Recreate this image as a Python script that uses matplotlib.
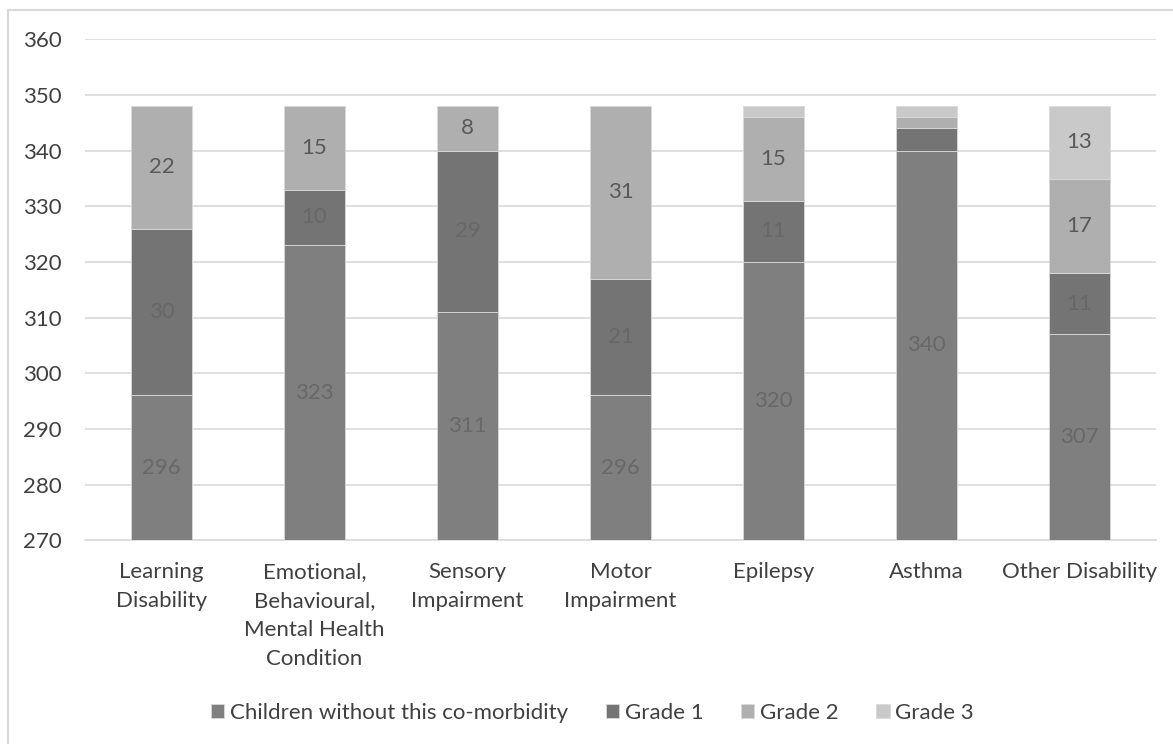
import matplotlib.pyplot as plt
import numpy as np

categories = ["Learning\nDisability", "Emotional,\nBehavioural,\nMental Health\nCondition",
              "Sensory\nImpairment", "Motor\nImpairment", "Epilepsy", "Asthma", "Other Disability"]
base = [296, 323, 311, 296, 320, 340, 307]
grade1 = [30, 10, 29, 21, 11, 4, 11]
grade2 = [22, 15, 8, 31, 15, 2, 17]
grade3 = [0, 0, 0, 0, 2, 2, 13]
series_names = ["Children without this co-morbidity", "Grade 1", "Grade 2", "Grade 3"]
colors = ["#7f7f7f", "#747474", "#afafaf", "#c9c9c9"]
label_colors = ["#686868", "#686868", "#595959", "#595959"]
show_label = [
    [True, True, True, True, True, True, True],
    [True, True, True, True, True, False, True],
    [True, True, True, True, True, False, True],
    [False, False, False, False, False, False, True],
]

plt.rcParams['font.family'] = ['Lato', 'DejaVu Sans']

fig = plt.figure(figsize=(11.73, 7.44), dpi=100)
ax = fig.add_axes([0.0725, 0.274, 0.913, 0.673])

x = np.arange(len(categories))
bottom = np.zeros(len(categories))
data = [base, grade1, grade2, grade3]
handles = []
ymin = 270
for i, vals in enumerate(data):
    vals = np.array(vals, dtype=float)
    bars = ax.bar(x, vals, bottom=bottom, width=0.4, color=colors[i],
                  edgecolor="#d9d9d9", linewidth=0.6, label=series_names[i], zorder=3)
    handles.append(bars)
    for j, v in enumerate(vals):
        if v > 0 and show_label[i][j]:
            lo = max(bottom[j], ymin)
            yc = (lo + bottom[j] + v) / 2
            ax.text(x[j], yc, str(int(v)), ha="center", va="center",
                    fontsize=16, color=label_colors[i], zorder=4)
    bottom = bottom + vals

ax.set_ylim(ymin, 360)
ax.set_xlim(-0.5, len(categories) - 0.5)
ax.set_yticks(range(270, 361, 10))
ax.yaxis.grid(True, color="#d9d9d9", linewidth=1.2, zorder=0)
ax.set_axisbelow(True)
for s in ["top", "right", "left"]:
    ax.spines[s].set_visible(False)
ax.spines["bottom"].set_color("#d9d9d9")
ax.spines["bottom"].set_linewidth(1.2)
ax.tick_params(axis="y", length=0, labelsize=16, colors="#404040", pad=17)
ax.tick_params(axis="x", length=0, labelsize=16, colors="#404040", pad=16)
ax.set_xticks(x)
ax.set_xticklabels(categories, va="top", linespacing=1.56)

fig.legend(handles=handles, labels=series_names, loc="center", bbox_to_anchor=(0.505, 0.042),
           ncol=4, frameon=False, fontsize=16, handlelength=0.6, handleheight=0.6,
           handletextpad=0.25, columnspacing=1.7, labelcolor="#404040")

# chart border (cropped at right and bottom)
fig.add_artist(plt.Line2D([0.0068, 0.0068], [0, 0.9866], transform=fig.transFigure,
                          color="#d9d9d9", linewidth=1.5))
fig.add_artist(plt.Line2D([0.0068, 1], [0.9866, 0.9866], transform=fig.transFigure,
                          color="#d9d9d9", linewidth=1.5))

fig.savefig("out.png", dpi=100)
